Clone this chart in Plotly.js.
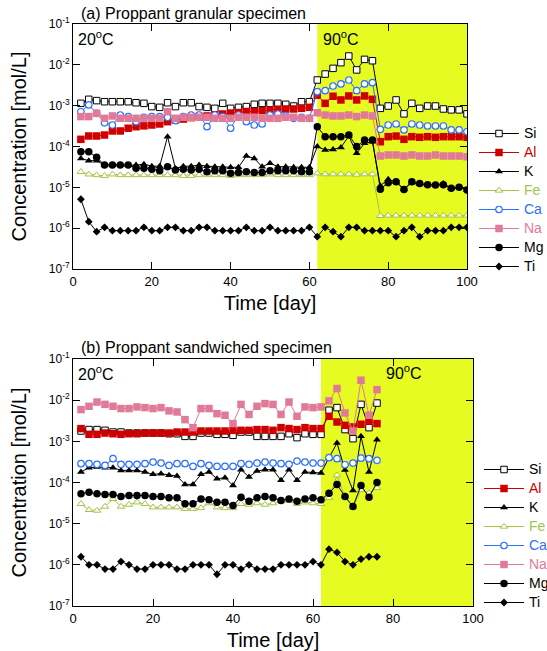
<!DOCTYPE html>
<html>
<head>
<meta charset="utf-8">
<script src="https://cdn.plot.ly/plotly-3.0.1.min.js"></script>
<style>html,body{margin:0;padding:0;background:#fff;}</style>
</head>
<body>
<div id="chart" style="width:547px;height:651px;"></div>
<script>
// ---------- (a) Proppant granular specimen ----------
const daysA = [2,4,6,8,10,12,14,16,18,20,22,24,26,28,30,32,34,36,38,40,42,44,46,48,50,52,54,56,58,60,62,64,66,68,70,72,74,76,78,80,82,84,86,88,90,92,94,96,98,100];
const siA = [1.14e-3,1.43e-3,1.33e-3,1.25e-3,1.25e-3,1.25e-3,1.25e-3,1.18e-3,1.14e-3,0.95e-3,0.91e-3,1.18e-3,0.95e-3,1.18e-3,1.18e-3,0.95e-3,0.91e-3,0.86e-3,1.14e-3,0.86e-3,0.91e-3,0.95e-3,1.08e-3,1.14e-3,1.14e-3,1.14e-3,1.08e-3,0.98e-3,1.25e-3,1.25e-3,4.25e-3,5.95e-3,8.2e-3,1.13e-2,1.64e-2,7.5e-3,1.36e-2,1.26e-2,8.6e-4,9.8e-4,1.38e-3,6.3e-4,1.14e-3,8.6e-4,9.8e-4,9.8e-4,8.3e-4,7.9e-4,7.9e-4,6.3e-4];
const alA = [1.5e-4,1.81e-4,1.81e-4,1.91e-4,2.4e-4,2.4e-4,2.8e-4,3.05e-4,3.2e-4,3.36e-4,3.56e-4,4.05e-4,4.45e-4,4.7e-4,5.1e-4,5.4e-4,5.6e-4,5.9e-4,6.25e-4,6.6e-4,6.8e-4,7.2e-4,7.2e-4,7.55e-4,7.85e-4,8.2e-4,8.3e-4,8.3e-4,8.6e-4,9.1e-4,1.8e-3,1.14e-3,1.7e-3,1.38e-3,1.73e-3,1.38e-3,1.73e-3,1.43e-3,1.31e-4,1.74e-4,1.8e-4,1.5e-4,1.74e-4,1.68e-4,1.74e-4,1.68e-4,1.74e-4,1.74e-4,1.74e-4,1.68e-4];
const kA = [5.1e-5,4.5e-5,4.5e-5,3.5e-5,3.5e-5,3.5e-5,3.5e-5,3.5e-5,3.7e-5,3.3e-5,3.3e-5,1.74e-4,2.9e-5,3.3e-5,3.3e-5,3.5e-5,3.3e-5,3.2e-5,3.2e-5,3.1e-5,3.1e-5,5.85e-5,5.1e-5,3.2e-5,3.9e-5,3.2e-5,3.2e-5,3.1e-5,3.1e-5,3.1e-5,1.0e-4,8.2e-5,8.5e-5,9.5e-5,1.8e-4,6.8e-5,1.2e-4,1.3e-4,1.1e-5,1.57e-5,1.35e-5,0.9e-5,1.3e-5,1.2e-5,1.15e-5,1.14e-5,1.25e-5,0.95e-5,1.0e-5,0.86e-5];
const feA = [2.4e-5,2.08e-5,2.0e-5,1.92e-5,2.08e-5,2.0e-5,2.0e-5,2.0e-5,2.0e-5,2.0e-5,2.0e-5,2.0e-5,2.0e-5,1.92e-5,1.92e-5,2.0e-5,2.0e-5,2.0e-5,2.0e-5,1.92e-5,2.0e-5,2.0e-5,2.0e-5,2.0e-5,2.08e-5,2.0e-5,2.0e-5,2.0e-5,2.0e-5,2.0e-5,2.2e-5,2.1e-5,2.1e-5,2.1e-5,2.1e-5,2.05e-5,2.1e-5,2.1e-5,2.0e-6,2.05e-6,2.05e-6,2.05e-6,2.05e-6,2.05e-6,2.05e-6,2.05e-6,2.05e-6,2.05e-6,2.05e-6,2.05e-6];
const caA = [7.1e-4,1.04e-3,6.5e-4,3.8e-4,3.36e-4,5.9e-4,5.4e-4,4.05e-4,5.2e-4,5.4e-4,5.4e-4,5.2e-4,4.3e-4,5.4e-4,5.9e-4,5.9e-4,3.06e-4,5.9e-4,5.4e-4,2.8e-4,5.9e-4,4.05e-4,3.36e-4,3.56e-4,5.9e-4,6.25e-4,5.6e-4,4.9e-4,5.2e-4,4.9e-4,2.2e-3,2.33e-3,3.03e-3,3.4e-3,4.25e-3,2.33e-3,3.4e-3,3.66e-3,2.64e-4,3.36e-4,3.56e-4,2.55e-4,3.56e-4,3.36e-4,3.18e-4,3.18e-4,3.18e-4,2.55e-4,2.55e-4,2.3e-4];
const naA = [5.4e-4,5.4e-4,6.5e-4,4.9e-4,5.6e-4,4.9e-4,4.9e-4,4.9e-4,4.9e-4,4.9e-4,4.9e-4,7.1e-4,4.9e-4,5.2e-4,5.2e-4,5.2e-4,5.2e-4,4.9e-4,4.9e-4,4.9e-4,5.2e-4,5.2e-4,5.2e-4,4.9e-4,4.9e-4,4.9e-4,5.2e-4,5.2e-4,4.9e-4,4.9e-4,6.7e-4,5.9e-4,5.6e-4,5.6e-4,5.9e-4,5.4e-4,5.9e-4,5.6e-4,5.85e-5,6.2e-5,6.2e-5,5.85e-5,6.2e-5,5.85e-5,5.85e-5,6.2e-5,5.85e-5,5.85e-5,5.85e-5,5.6e-5];
const mgA = [7.45e-5,7.45e-5,5.45e-5,3.53e-5,3.53e-5,3.53e-5,3.53e-5,2.93e-5,2.93e-5,2.77e-5,2.56e-5,3.2e-5,2.66e-5,2.77e-5,2.66e-5,2.77e-5,2.41e-5,2.56e-5,2.56e-5,2.2e-5,2.3e-5,2.41e-5,2.3e-5,2.3e-5,2.56e-5,2.56e-5,2.56e-5,2.56e-5,2.41e-5,2.41e-5,3.05e-4,1.74e-4,1.74e-4,1.74e-4,1.91e-4,1.0e-4,1.44e-4,1.44e-4,0.9e-5,1.3e-5,1.37e-5,0.89e-5,1.37e-5,1.25e-5,1.15e-5,1.14e-5,1.15e-5,0.95e-5,1.0e-5,0.86e-5];
const tiA = [5.1e-6,1.44e-6,0.82e-6,1.05e-6,0.87e-6,0.87e-6,0.87e-6,0.87e-6,1.05e-6,0.87e-6,0.87e-6,1.05e-6,1.05e-6,0.87e-6,0.87e-6,1.05e-6,1.05e-6,0.87e-6,0.87e-6,0.87e-6,0.87e-6,1.05e-6,0.87e-6,0.87e-6,1.05e-6,0.87e-6,0.87e-6,0.87e-6,0.87e-6,1.05e-6,0.62e-6,1.05e-6,0.82e-6,0.62e-6,1.05e-6,1.05e-6,0.87e-6,0.87e-6,0.87e-6,0.87e-6,0.62e-6,0.87e-6,1.05e-6,0.62e-6,0.87e-6,0.87e-6,0.87e-6,1.05e-6,1.05e-6,1.05e-6];

// ---------- (b) Proppant sandwiched specimen ----------
const daysB = [2,4,6,8,10,12,14,16,18,20,22,24,26,28,30,32,34,36,38,40,42,44,46,48,50,52,54,56,58,60,62,64,66,68,70,72,74,76];
const siB = [1.78e-3,1.93e-3,1.93e-3,1.85e-3,1.68e-3,1.68e-3,1.59e-3,1.59e-3,1.59e-3,1.59e-3,1.59e-3,1.53e-3,1.53e-3,1.32e-3,1.32e-3,1.59e-3,1.59e-3,1.48e-3,1.48e-3,1.4e-3,1.68e-3,1.68e-3,1.32e-3,1.32e-3,1.32e-3,1.32e-3,1.53e-3,1.23e-3,1.53e-3,1.48e-3,1.48e-3,5.7e-3,6.6e-3,1.93e-3,1.16e-3,7.9e-3,2.15e-3,8.5e-3];
const alB = [2.04e-3,1.48e-3,1.48e-3,1.59e-3,1.53e-3,1.48e-3,1.53e-3,1.53e-3,1.59e-3,1.59e-3,1.59e-3,1.59e-3,1.68e-3,1.68e-3,1.68e-3,1.78e-3,1.78e-3,1.78e-3,1.78e-3,1.85e-3,1.85e-3,1.85e-3,1.93e-3,1.93e-3,1.85e-3,2.15e-3,2.04e-3,1.93e-3,2.15e-3,2.04e-3,2.04e-3,4.06e-3,2.95e-3,2.45e-3,2.23e-3,2.6e-3,3.12e-3,2.7e-3];
const kB = [1.8e-4,2.29e-4,2.37e-4,2.29e-4,2.29e-4,1.97e-4,1.97e-4,1.97e-4,1.8e-4,1.58e-4,1.64e-4,1.5e-4,1.43e-4,9.0e-5,9.0e-5,1.58e-4,1.8e-4,1.24e-4,1.3e-4,8.5e-5,2.05e-4,1.36e-4,1.9e-4,2.05e-4,2.05e-4,1.13e-4,2.05e-4,1.13e-4,1.8e-4,1.75e-4,1.7e-4,4.0e-4,9.1e-4,2.0e-4,6.4e-5,1.32e-3,1.8e-4,1.1e-3];
const feB = [3.03e-5,2.16e-5,2.08e-5,2.6e-5,4.0e-5,2.6e-5,2.9e-5,3.3e-5,3.03e-5,2.5e-5,2.5e-5,2.5e-5,2.5e-5,2.3e-5,2.3e-5,2.4e-5,3.15e-5,2.5e-5,2.4e-5,2.4e-5,3.03e-5,2.9e-5,3.15e-5,2.9e-5,3.15e-5,3.5e-5,3.6e-5,3.03e-5,3.3e-5,3.15e-5,3.03e-5,4.24e-5,1.5e-4,4.5e-5,2.5e-5,6.6e-5,5.5e-5,7.4e-5];
const caB = [2.87e-4,2.87e-4,2.76e-4,2.6e-4,3.8e-4,2.76e-4,2.76e-4,2.76e-4,2.87e-4,3.14e-4,2.97e-4,2.6e-4,2.87e-4,2.87e-4,2.46e-4,2.87e-4,2.6e-4,2.46e-4,2.46e-4,2.46e-4,2.87e-4,2.76e-4,2.97e-4,3.14e-4,2.97e-4,2.87e-4,2.76e-4,3.32e-4,3.14e-4,2.97e-4,2.97e-4,4.0e-4,3.8e-4,2.7e-4,2.97e-4,3.9e-4,3.8e-4,3.45e-4];
const naB = [5.9e-3,7.1e-3,9.0e-3,7.9e-3,7.1e-3,6.25e-3,6.25e-3,6.85e-3,6.6e-3,6.25e-3,6.6e-3,5.5e-3,5.17e-3,3.37e-3,2.15e-3,6.25e-3,6.25e-3,4.7e-3,4.3e-3,2.7e-3,7.9e-3,4.5e-3,7.1e-3,8.25e-3,7.9e-3,4.5e-3,9.0e-3,4.06e-3,6.85e-3,6.6e-3,6.85e-3,9.6e-3,1.92e-2,4.9e-3,1.78e-3,3.05e-2,4.3e-3,1.8e-2];
const mgB = [5.3e-5,5.8e-5,5.3e-5,5.1e-5,5.1e-5,4.57e-5,4.83e-5,4.83e-5,4.83e-5,4.57e-5,4.57e-5,4.24e-5,4.24e-5,3.03e-5,3.03e-5,4.0e-5,3.8e-5,3.3e-5,3.3e-5,2.75e-5,4.4e-5,3.5e-5,4.24e-5,4.57e-5,4.24e-5,3.65e-5,4.0e-5,3.5e-5,4.0e-5,4.24e-5,3.8e-5,5.5e-5,8.9e-5,4.57e-5,2.6e-5,8.5e-5,4.4e-5,1.0e-4];
const tiB = [1.57e-6,1.0e-6,1.0e-6,0.79e-6,0.79e-6,1.2e-6,1.0e-6,0.79e-6,0.79e-6,1.0e-6,1.0e-6,1.0e-6,0.79e-6,0.79e-6,1.0e-6,1.0e-6,1.0e-6,0.59e-6,1.0e-6,1.0e-6,0.79e-6,1.0e-6,0.79e-6,0.79e-6,0.79e-6,1.0e-6,1.0e-6,1.0e-6,1.0e-6,1.2e-6,1.0e-6,2.4e-6,2.0e-6,1.2e-6,1.0e-6,1.38e-6,1.57e-6,1.57e-6];

// y-axis tick values and labels
const yTickVals = [1e-7,1e-6,1e-5,1e-4,1e-3,1e-2,1e-1];
const yTickText = ['10<sup>-7</sup>','10<sup>-6</sup>','10<sup>-5</sup>','10<sup>-4</sup>','10<sup>-3</sup>','10<sup>-2</sup>','10<sup>-1</sup>'];

const RED = '#d00000', FE = '#a3c447', CA = '#2f6fff', NA = '#e07a98';
const lbl = (t, c) => '<span style="font-size:14px' + (c ? ';fill:' + c : '') + '">' + t + '</span>';
const styles = {
  Si: {color:'black', marker:{symbol:'square', size:6.5, color:'white', line:{color:'black', width:1}}, label:lbl('Si')},
  Al: {color:RED, marker:{symbol:'square', size:7.5, color:RED, line:{width:0}}, label:lbl('Al', RED)},
  K:  {color:'black', marker:{symbol:'triangle-up', size:7, color:'black', line:{width:0}}, label:lbl('K')},
  Fe: {color:FE, marker:{symbol:'triangle-up', size:6.5, color:'white', line:{color:FE, width:1}}, label:lbl('Fe', FE)},
  Ca: {color:CA, marker:{symbol:'circle', size:6.5, color:'white', line:{color:CA, width:1.2}}, label:lbl('Ca', CA)},
  Na: {color:NA, marker:{symbol:'square', size:7.5, color:NA, line:{width:0}}, label:lbl('Na', NA)},
  Mg: {color:'black', marker:{symbol:'circle', size:7.5, color:'black', line:{width:0}}, label:lbl('Mg')},
  Ti: {color:'black', marker:{symbol:'diamond', size:6, color:'black', line:{width:0}}, label:lbl('Ti')}
};

function mk(name, x, y, xa, ya, leg) {
  const s = styles[name];
  return {x:x, y:y, xaxis:xa, yaxis:ya, legend:leg, type:'scatter', mode:'lines+markers',
    name:s.label, line:{color:s.color, width:1}, marker:s.marker, cliponaxis:true};
}

const seriesA = {Si:siA, Al:alA, K:kA, Fe:feA, Ca:caA, Na:naA, Mg:mgA, Ti:tiA};
const seriesB = {Si:siB, Al:alB, K:kB, Fe:feB, Ca:caB, Na:naB, Mg:mgB, Ti:tiB};
const order = ['Si','Al','K','Fe','Ca','Na','Mg','Ti'];
const traces = [];
order.forEach(n => traces.push(mk(n, daysA, seriesA[n], 'x', 'y', 'legend')));
order.forEach(n => traces.push(mk(n, daysB, seriesB[n], 'x2', 'y2', 'legend2')));

const W = 547, H = 651;
const px = v => v / W, py = v => 1 - v / H;
const FONT = 'Liberation Sans, Arial, Helvetica, sans-serif';

function xax(dom, anchor) {
  return {domain:dom, anchor:anchor, range:[0,100], tick0:0, dtick:20, ticks:'inside', ticklen:7,
    tickcolor:'black', mirror:'ticks', showline:true, linecolor:'black', linewidth:1,
    showgrid:false, zeroline:false, tickfont:{size:13, family:FONT},
    title:{text:'Time [day]', font:{size:20, family:FONT}, standoff:8}};
}
function yax(dom, anchor) {
  return {domain:dom, anchor:anchor, type:'log', range:[-7,-1], tickvals:yTickVals, ticktext:yTickText,
    ticks:'inside', ticklen:7, tickcolor:'black', mirror:'ticks', showline:true, linecolor:'black', linewidth:1,
    showgrid:false, zeroline:false, tickfont:{size:12, family:FONT},
    title:{text:'Concentration [mol/L]', font:{size:20, family:FONT}, standoff:16}};
}

const YEL = '#e5fb22';
const layout = {
  width:W, height:H, margin:{l:0, r:0, t:0, b:0, autoexpand:false},
  paper_bgcolor:'white', plot_bgcolor:'rgba(0,0,0,0)',
  font:{family:FONT, color:'black'},
  showlegend:true,
  xaxis: xax([px(73), px(467)], 'y'),
  yaxis: yax([py(269), py(24)], 'x'),
  xaxis2: xax([px(73), px(473)], 'y2'),
  yaxis2: yax([py(606), py(359)], 'x2'),
  legend: {x:px(474), y:py(119), xanchor:'left', yanchor:'top', bgcolor:'rgba(0,0,0,0)',
    font:{size:12, family:FONT}, itemwidth:40, tracegroupgap:0},
  legend2: {x:px(479), y:py(455), xanchor:'left', yanchor:'top', bgcolor:'rgba(0,0,0,0)',
    font:{size:12, family:FONT}, itemwidth:40, tracegroupgap:0},
  shapes: [
    {type:'rect', xref:'x', yref:'y domain', x0:62, x1:100, y0:0, y1:1, fillcolor:YEL, line:{width:0}, layer:'below'},
    {type:'rect', xref:'x2', yref:'y2 domain', x0:62, x1:100, y0:0, y1:1, fillcolor:YEL, line:{width:0}, layer:'below'}
  ],
  annotations: [
    {text:'(a) Proppant granular specimen', x:px(79), y:py(14), xref:'paper', yref:'paper', xanchor:'left', yanchor:'middle', showarrow:false, font:{size:16}},
    {text:'20<sup>o</sup>C', x:px(76), y:py(38), xref:'paper', yref:'paper', xanchor:'left', yanchor:'middle', showarrow:false, font:{size:16}},
    {text:'90<sup>o</sup>C', x:px(321), y:py(38), xref:'paper', yref:'paper', xanchor:'left', yanchor:'middle', showarrow:false, font:{size:16}},
    {text:'(b) Proppant sandwiched specimen', x:px(79), y:py(347), xref:'paper', yref:'paper', xanchor:'left', yanchor:'middle', showarrow:false, font:{size:16}},
    {text:'20<sup>o</sup>C', x:px(76), y:py(373), xref:'paper', yref:'paper', xanchor:'left', yanchor:'middle', showarrow:false, font:{size:16}},
    {text:'90<sup>o</sup>C', x:px(384), y:py(372), xref:'paper', yref:'paper', xanchor:'left', yanchor:'middle', showarrow:false, font:{size:16}}
  ]
};

Plotly.newPlot('chart', traces, layout, {displayModeBar:false, staticPlot:true});
</script>
</body>
</html>
